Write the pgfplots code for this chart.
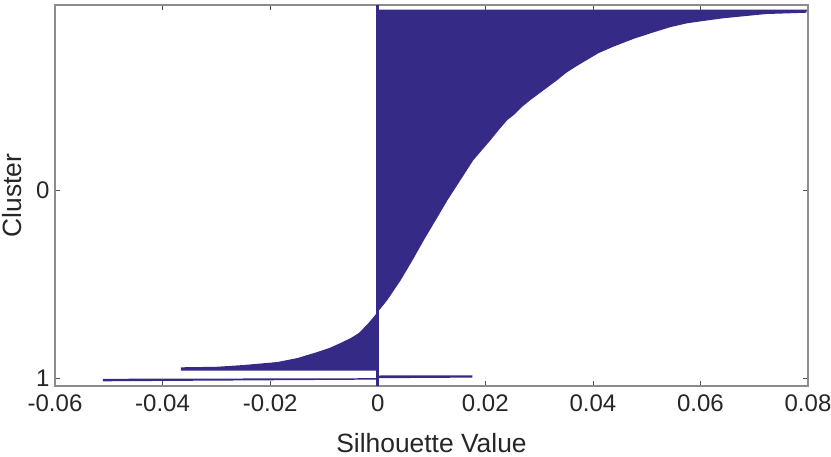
\documentclass[border=0pt]{standalone}
\usepackage{fontspec}
\setmainfont{Liberation Sans}
\usepackage{pgfplots}
\pgfplotsset{compat=1.18}
\usetikzlibrary{calc}
\definecolor{silblue}{RGB}{53,42,134}
\definecolor{axgray}{RGB}{140,140,140}
\definecolor{txtgray}{RGB}{38,38,38}

\begin{document}
\begin{tikzpicture}
\begin{axis}[
    scale only axis,
    width=753bp,
    height=381bp,
    xmin=-0.06, xmax=0.08,
    ymin=5, ymax=386,
    y dir=reverse,
    scaled x ticks=false,
    xtick={-0.06,-0.04,-0.02,0,0.02,0.04,0.06,0.08},
    xticklabels={-0.06,-0.04,-0.02,0,0.02,0.04,0.06,0.08},
    ytick={190,378},
    yticklabels={0,1},
    tick align=inside,
    major tick length=5bp,
    tick style={draw=txtgray!80, line width=0.6bp},
    axis line style={draw=axgray, line width=1.2bp},
    ticklabel style={font=\fontsize{24bp}{28bp}\selectfont, text=txtgray},
    xticklabel style={yshift=-5bp},
    yticklabel style={xshift=-2bp},
    xlabel={Silhouette Value},
    ylabel={Cluster},
    label style={font=\fontsize{26.4bp}{30bp}\selectfont, text=txtgray, inner sep=0pt},
    xlabel style={at={(axis description cs:0.5,0)}, anchor=base, yshift=-66bp},
    ylabel style={at={(axis description cs:0,0.5)}, anchor=south, yshift=33bp},
  ]
% cluster 0: sorted silhouette values, closed to x = 0
\addplot[fill=silblue, draw=none] coordinates {
  (0,9.5) (0.0798,9.5) (0.0797,12.7) (0.0765,13.3) (0.0723,14) (0.0685,16)
  (0.0642,18.3) (0.0605,21) (0.0575,23.3) (0.0545,27) (0.0507,33.3)
  (0.0475,39) (0.0438,46.7) (0.0410,53.3) (0.0389,60) (0.0368,66.7)
  (0.0350,73) (0.0334,80) (0.0309,90) (0.0284,100) (0.0268,107)
  (0.0253,115) (0.0241,120) (0.0225,130) (0.0210,140) (0.0194,150)
  (0.0178,160) (0.0166,170) (0.0154,180) (0.0142,190) (0.0130,200)
  (0.0108,220) (0.0086,240) (0.0065,260) (0.0043,280) (0.0018,300)
  (0.0,312) (-0.0017,323) (-0.0035,333) (-0.0050,338) (-0.0069,343)
  (-0.0090,348) (-0.0112,352) (-0.0149,358) (-0.0186,362) (-0.0249,365)
  (-0.0300,366.8) (-0.0366,367.3) (-0.0366,370.6) (0,370.6)
};
% cluster 1
\addplot[fill=silblue, draw=none] coordinates {
  (0,375.5) (0.0176,375.3) (0.0176,377.6) (0,378.2) (-0.0511,378.8)
  (-0.0511,381.3) (0,379.6)
};
% zero line
\addplot[silblue, line width=2.5bp] coordinates {(0,5) (0,386)};
\end{axis}
\pgfresetboundingbox
\path[use as bounding box] ($(current axis.south west)+(-55bp,-71bp)$)
  rectangle ($(current axis.north east)+(23bp,5bp)$);
\end{tikzpicture}
\end{document}
